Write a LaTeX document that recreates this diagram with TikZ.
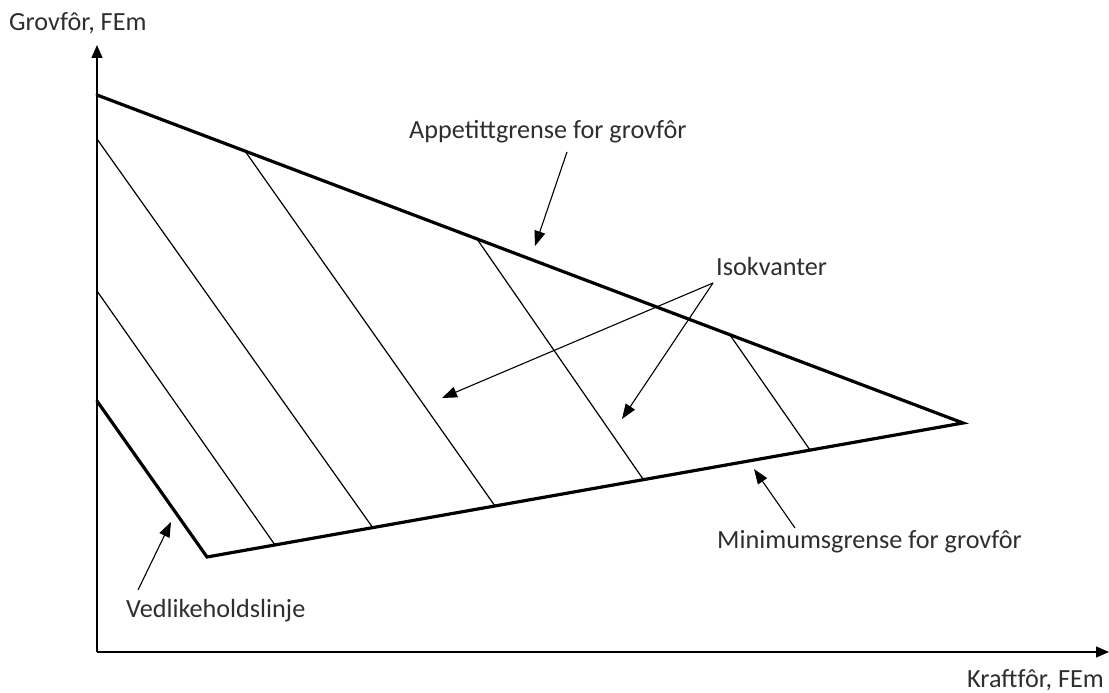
\documentclass[tikz,border=0pt]{standalone}
\usepackage{fontspec}
\setmainfont{Carlito}
\usetikzlibrary{arrows.meta}
\definecolor{txt}{HTML}{2E2E2E}
\tikzset{
  lbl/.style={anchor=base west,inner sep=0pt,text=txt,font=\fontsize{26.2}{30}\selectfont},
  thick line/.style={line width=3.2pt,line join=miter,line cap=round},
  thin line/.style={line width=1.2pt},
  axisline/.style={line width=1.4pt,-{Triangle[length=13pt,width=11pt]}},
  pointer/.style={line width=1.1pt,-{Triangle[length=15pt,width=11pt]}}
}
\begin{document}
\begin{tikzpicture}[x=1pt,y=-1pt]
\useasboundingbox (0,0) rectangle (1109,693);
% axes
\coordinate (O) at (97,652);
\coordinate (Ytop) at (97,45);
\coordinate (Xend) at (1109,652);
\draw[axisline] (O) -- (Ytop);
\draw[axisline] (O) -- (Xend);
% main lines
\coordinate (A) at (97,95);
\coordinate (Apex) at (963,423);
\coordinate (B) at (207,557);
\coordinate (V) at (97,401);
\draw[thick line] (A) -- (Apex) -- (B) -- (V);
% isoquants
\coordinate (i1s) at (97,291);  \coordinate (i1e) at (275,545);
\coordinate (i2s) at (97,139);  \coordinate (i2e) at (373,528);
\coordinate (i3s) at (245,151); \coordinate (i3e) at (495,506);
\coordinate (i4s) at (477,239); \coordinate (i4e) at (643,479);
\coordinate (i5s) at (730,335); \coordinate (i5e) at (810,450);
\foreach \k in {1,...,5} \draw[thin line] (i\k s) -- (i\k e);
% labels
\node[lbl] (ylab) at (9,31) {Grovfôr, FEm};
\node[lbl] (xlab) at (967,687) {Kraftfôr, FEm};
\node[lbl] (app) at (409,139) {Appetittgrense for grovfôr};
\node[lbl] (iso) at (716,275) {Isokvanter};
\node[lbl] (minl) at (717,548) {Minimumsgrense for grovfôr};
\node[lbl] (ved) at (126,617) {Vedlikeholdslinje};
% pointers
\coordinate (appS) at (567,152);  \coordinate (appT) at (535,246);
\coordinate (isoS) at (713,283);  \coordinate (isoT1) at (442,398); \coordinate (isoT2) at (622,419);
\coordinate (minS) at (795,528);  \coordinate (minT) at (754,469);
\coordinate (vedS) at (138,590);  \coordinate (vedT) at (171,522);
\draw[pointer] (appS) -- (appT);
\draw[pointer] (isoS) -- (isoT1);
\draw[pointer] (isoS) -- (isoT2);
\draw[pointer] (minS) -- (minT);
\draw[pointer] (vedS) -- (vedT);
\end{tikzpicture}
\end{document}
